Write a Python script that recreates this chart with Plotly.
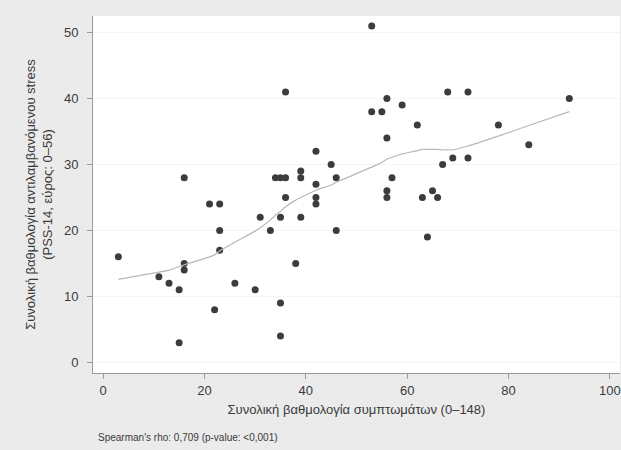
import plotly.graph_objects as go

# Scatter data: symptom score (x) vs perceived stress (y)
symptom_score = [3, 11, 13, 15, 15, 16, 16, 16, 21, 22, 23, 23, 23, 26, 30, 31, 33,
                 34, 35, 36, 35, 35, 35, 36, 36, 38, 39, 39, 39, 42, 42, 42, 42, 45,
                 46, 46, 53, 53, 55, 56, 56, 56, 56, 57, 59, 62, 63, 64, 65, 66, 67,
                 68, 69, 72, 72, 78, 84, 92]
stress_score = [16, 13, 12, 11, 3, 28, 15, 14, 24, 8, 24, 20, 17, 12, 11, 22, 20,
                28, 28, 28, 22, 9, 4, 41, 25, 15, 29, 28, 22, 32, 27, 25, 24, 30,
                28, 20, 51, 38, 38, 40, 34, 26, 25, 28, 39, 36, 25, 19, 26, 25, 30,
                41, 31, 41, 31, 36, 33, 40]

# Lowess smoother
lowess_x = [3, 11, 13, 15, 16, 21, 22, 23, 26, 30, 31, 33, 34, 35, 36, 38, 39, 42,
            45, 46, 53, 55, 56, 57, 59, 62, 63, 64, 65, 66, 67, 68, 69, 72, 78, 84, 92]
lowess_y = [12.6, 13.7, 14.0, 14.5, 14.8, 16.0, 16.3, 16.9, 18.2, 19.9, 20.4, 21.6,
            22.3, 22.9, 23.6, 24.6, 25.0, 26.1, 26.9, 27.3, 29.6, 30.3, 30.8, 31.1,
            31.6, 32.1, 32.3, 32.3, 32.3, 32.3, 32.2, 32.2, 32.2, 32.8, 34.3, 35.9, 38.0]

x_ticks = [0, 20, 40, 60, 80, 100]
y_ticks = [0, 10, 20, 30, 40, 50]

x_title = "Συνολική βαθμολογία συμπτωμάτων (0–148)"
y_title = "Συνολική βαθμολογία αντιλαμβανόμενου stress<br>(PSS-14, εύρος: 0–56)"
note = "Spearman's rho: 0,709 (p-value: <0,001)"

FONT = "Liberation Sans, Arial, sans-serif"

fig = go.Figure()
fig.add_trace(go.Scatter(
    x=symptom_score, y=stress_score, mode="markers",
    marker=dict(color="#3c3c3c", size=7, line=dict(width=0)),
    showlegend=False, hoverinfo="x+y"))
fig.add_trace(go.Scatter(
    x=lowess_x, y=lowess_y, mode="lines",
    line=dict(color="#b8b8b8", width=1.2, shape="spline", smoothing=0.5),
    showlegend=False, hoverinfo="skip"))

fig.update_layout(
    width=621, height=450,
    margin=dict(l=93, r=1, t=16, b=77),
    paper_bgcolor="#ebebeb", plot_bgcolor="#ffffff",
    font=dict(family=FONT, size=13, color="#3a3a3a"),
    xaxis=dict(
        range=[-2, 102], tickvals=x_ticks, ticktext=[str(v) for v in x_ticks],
        showgrid=False, zeroline=False, automargin=False,
        showline=True, linecolor="#9a9a9a", linewidth=1,
        ticks="outside", ticklen=5, tickcolor="#9a9a9a",
        tickfont=dict(size=13, color="#3a3a3a"),
        title=dict(text=x_title, font=dict(size=13, color="#3a3a3a"), standoff=8),
    ),
    yaxis=dict(
        range=[-1.6, 52.5], tickvals=y_ticks, ticktext=[str(v) for v in y_ticks],
        showgrid=True, gridcolor="#f4f4f4", zeroline=False, automargin=False,
        showline=True, linecolor="#9a9a9a", linewidth=1,
        ticks="outside", ticklen=5, tickcolor="#9a9a9a",
        tickfont=dict(size=13, color="#3a3a3a"), ticklabelstandoff=6,
        title=dict(text=y_title, font=dict(size=13, color="#3a3a3a"), standoff=8),
    ),
)

fig.add_annotation(
    text=note, xref="paper", yref="paper", x=0.006, y=-0.182,
    xanchor="left", yanchor="middle", showarrow=False,
    font=dict(size=10, color="#3a3a3a", family=FONT))

fig.write_html(
    "out.html",
    config={"displayModeBar": False},
    post_script="document.body.style.margin='0';document.body.style.padding='0';",
)
